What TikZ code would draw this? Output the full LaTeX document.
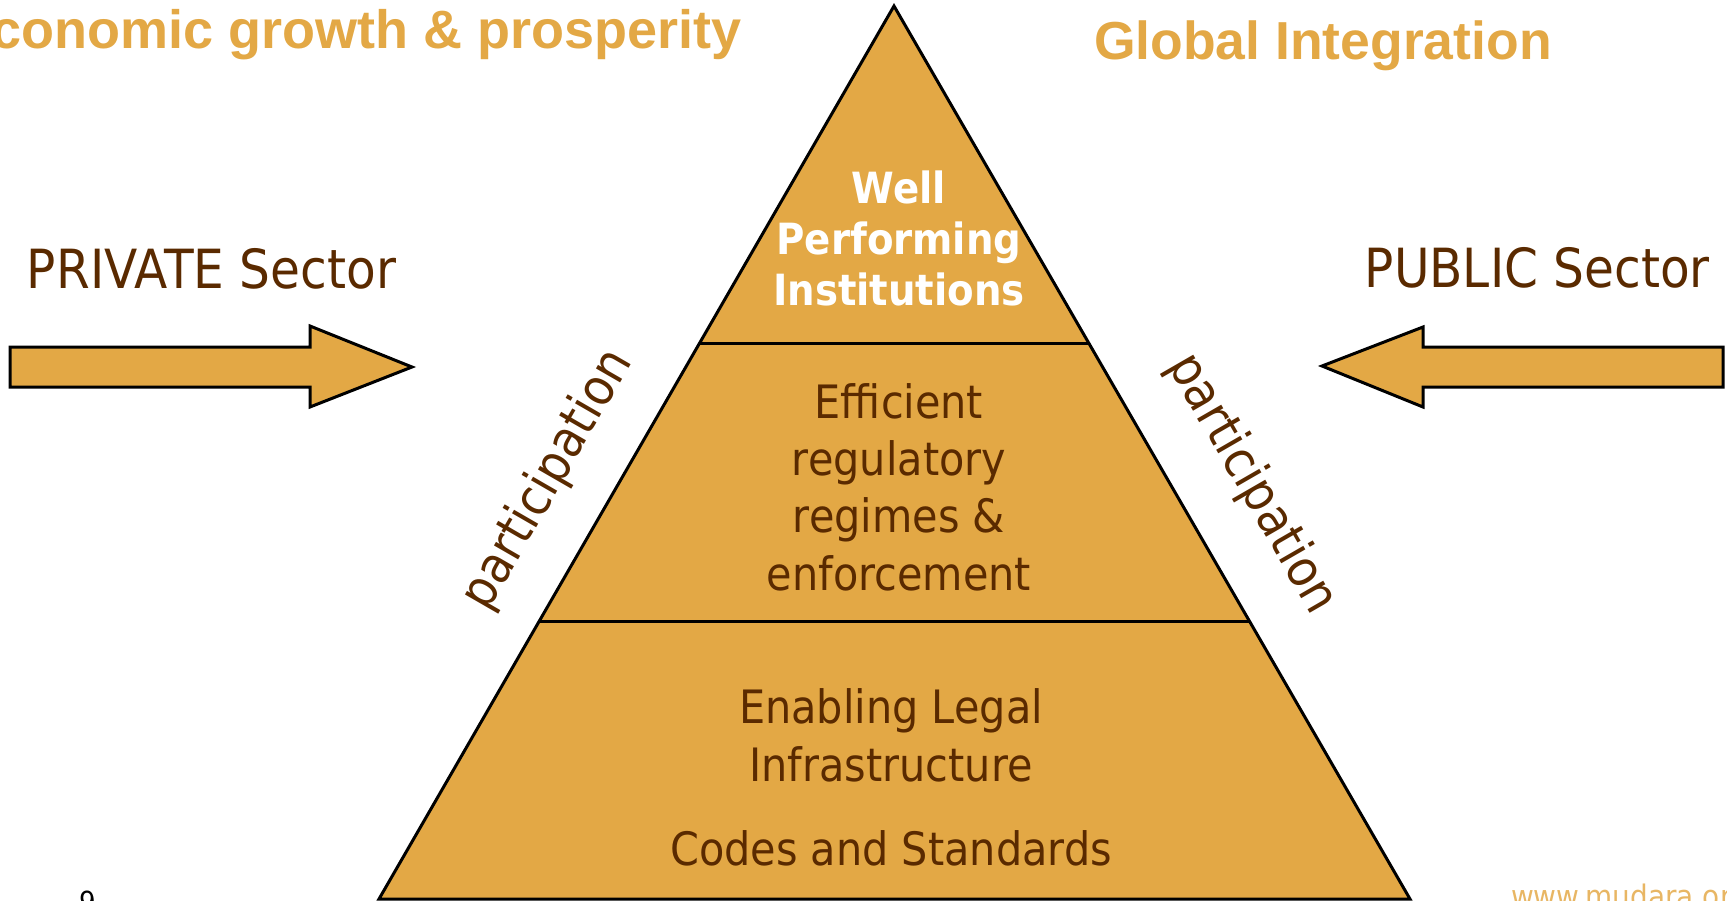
\documentclass[tikz,border=0pt]{standalone}
\usepackage{fontspec}
\usetikzlibrary{calc}
\newfontfamily\bodyfont{DejaVu Sans}[FakeStretch=0.9]
\newfontfamily\headfont{Liberation Sans}
\definecolor{pyrfill}{RGB}{227,168,69}
\definecolor{headorange}{RGB}{227,168,69}
\definecolor{darkbrown}{RGB}{90,42,0}
\definecolor{weborange}{RGB}{232,182,100}
\begin{document}
\begin{tikzpicture}[x=1pt,y=-1pt,
  every node/.style={inner sep=0pt, outer sep=0pt},
  heading/.style={font=\headfont\bfseries\fontsize{54}{60}\selectfont, text=headorange},
  sector/.style={font=\bodyfont\fontsize{54}{60}\selectfont, text=darkbrown},
  tiertext/.style={font=\bodyfont\fontsize{46}{57.3}\selectfont, text=darkbrown, align=center},
  toptext/.style={font=\bodyfont\bfseries\fontsize{43}{51}\selectfont, text=white, align=center},
  sidetext/.style={font=\bodyfont\fontsize{51}{52}\selectfont, text=darkbrown},
  blockarrow/.style={fill=pyrfill, draw=black, line width=3pt, line join=miter},
  pyramid/.style={fill=pyrfill, draw=black, line width=3pt, line join=miter},
  divider/.style={draw=black, line width=3pt}]
\useasboundingbox (0,0) rectangle (1727,900);

% pyramid outline and tier dividers
\coordinate (apex) at (894,6);
\coordinate (bl) at (379,899);
\coordinate (br) at (1410,899);
\path[pyramid] (apex) -- (bl) -- (br) -- cycle;
\coordinate (d1l) at ($(apex)!0.3774!(bl)$);
\coordinate (d1r) at ($(apex)!0.3774!(br)$);
\coordinate (d2l) at ($(apex)!0.6887!(bl)$);
\coordinate (d2r) at ($(apex)!0.6887!(br)$);
\draw[divider] (d1l) -- (d1r);
\draw[divider] (d2l) -- (d2r);

% block arrows pointing at the pyramid
\path[blockarrow] (10,347) -- (310,347) -- (310,326) -- (412,367)
  -- (310,407) -- (310,387) -- (10,387) -- cycle;
\path[blockarrow] (1723,347) -- (1423,347) -- (1423,327) -- (1322,366)
  -- (1423,407) -- (1423,387) -- (1723,387) -- cycle;

% headings
\node[heading, anchor=base east] (growth) at (742,48) {Economic growth \& prosperity};
\node[heading, anchor=base west, font=\headfont\bfseries\fontsize{53.5}{60}\selectfont] (global) at (1094,59) {Global Integration};

% sectors
\node[sector, anchor=base west] (private) at (27,288) {PRIVATE Sector};
\node[sector, anchor=base east] (public) at (1710,287) {PUBLIC Sector};

% tier texts (base anchor sits on the last line)
\node[toptext, anchor=base] (institutions) at (899,305) {Well\\Performing\\Institutions};
\node[tiertext, anchor=base] (regulatory) at (899,590) {Efficient\\regulatory\\regimes \&\\enforcement};
\node[tiertext, anchor=base] (legal) at (891,781) {Enabling Legal\\Infrastructure};
\node[tiertext, anchor=base] (codes) at (891,865) {Codes and Standards};

% participation along the sides
\node[sidetext, rotate=60] (partleft) at (548,480) {participation};
\node[sidetext, rotate=-60] (partright) at (1252,484) {participation};

% footer
\node[anchor=base west, font=\bodyfont\fontsize{29}{30}\selectfont, text=black] (pagenum) at (79,912) {9};
\node[anchor=base west, font=\bodyfont\fontsize{31}{32}\selectfont, text=weborange] (web) at (1511,907) {www.mudara.org};
\end{tikzpicture}
\end{document}
